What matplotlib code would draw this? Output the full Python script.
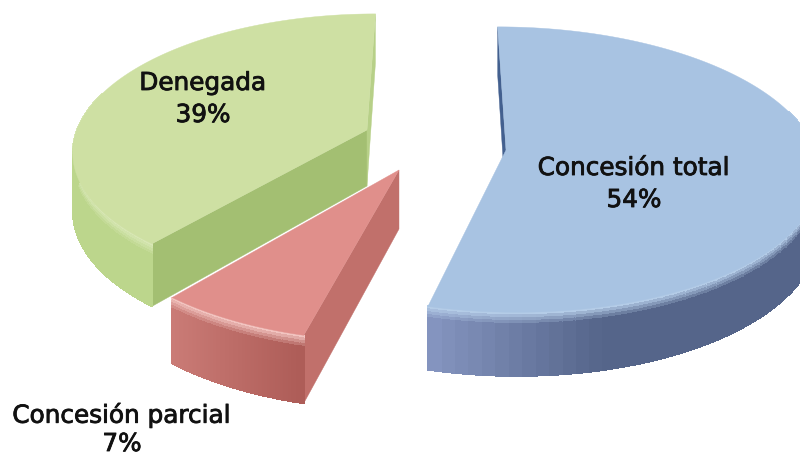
import numpy as np
import matplotlib
matplotlib.use("Agg")
import matplotlib.pyplot as plt
import matplotlib.patheffects as pe
from matplotlib.patches import Polygon
from matplotlib.colors import to_rgb

categories = ["Concesión total", "Concesión parcial", "Denegada"]
shares = [54, 7, 39]
share_labels = ["54%", "7%", "39%"]

VANISH_X = 437.0
PERSP = 0.137
geom = {
    "Concesión total": dict(ax=506, ay=150, rx=309, ry=140, d=55, top="#A8C3E2",
                            hi="#B4CCE7", s0="#8595C0", s1="#55658A", face="#43608F", ends=("start",)),
    "Concesión parcial": dict(ax=399, ay=170, rx=312, ry=148, d=59, top="#E08F8B",
                              hi="#F2C4C0", s0="#CA7B76", s1="#AE5D58", face="#C1706B", ends=("start",)),
    "Denegada": dict(ax=367, ay=130, rx=290, ry=132, d=56, top="#CEE0A3",
                     hi="#D8E7B5", s0="#BCD68C", s1="#BCD68C", face="#A3BF72", ends=("start", "end")),
}
label_pos = {
    "Concesión total": (634, 168, 200),
    "Concesión parcial": (122, 415, 444),
    "Denegada": (203, 83, 115),
}
draw_order = ["Denegada", "Concesión parcial", "Concesión total"]


def project(g, theta, r=1.0, depth=0.0):
    u = np.sin(theta) * r
    v = -np.cos(theta) * r
    w = 1.0 / (1.0 - PERSP * v)
    x = VANISH_X + (g["ax"] - VANISH_X + g["rx"] * u) * w
    y = g["ay"] + (g["ry"] * v + depth) * w
    return np.column_stack([np.atleast_1d(x), np.atleast_1d(y)])


def mix(a, b, t):
    a, b = np.array(to_rgb(a)), np.array(to_rgb(b))
    return tuple(a + (b - a) * np.clip(t, 0, 1))


fig = plt.figure(figsize=(8, 4.55), dpi=100)
ax = fig.add_axes([0, 0, 1, 1])
ax.set_xlim(0, 800)
ax.set_ylim(455, 0)
ax.axis("off")

edges = np.cumsum([0] + shares) / sum(shares) * 2 * np.pi
spans = {c: (edges[i], edges[i + 1]) for i, c in enumerate(categories)}
z = 1
for cat in draw_order:
    g = geom[cat]
    t0, t1 = spans[cat]
    # flat cut faces
    for which in g["ends"]:
        t = t0 if which == "start" else t1
        col = g["face"]
        if cat == "Denegada" and which == "end":
            col = "#B7D088"
        apex = project(g, t, 0.0)[0]
        apex_low = project(g, t, 0.0, g["d"])[0]
        rim = project(g, t)[0]
        rim_low = project(g, t, 1.0, g["d"])[0]
        ax.add_patch(Polygon([apex, rim, rim_low, apex_low], closed=True, fc=col, ec=col, lw=0.3, zorder=z))
        z += 1
    # curved side with a gradient and a soft bevel at its top
    n = 90
    th = np.linspace(t0, t1, n + 1)
    levels = [0, 2.5, 5, 7.5, 10, g["d"]]
    for i in range(n):
        if np.cos(0.5 * (th[i] + th[i + 1])) > 0.3:
            continue
        x_mid = project(g, 0.5 * (th[i] + th[i + 1]))[0, 0]
        if cat == "Concesión total":
            f = (x_mid - 430) / 170
        elif cat == "Concesión parcial":
            f = (x_mid - 172) / 125
        else:
            f = 0
        side = mix(g["s0"], g["s1"], f)
        for k in range(len(levels) - 1):
            a, b = levels[k], levels[k + 1]
            col = side if k == 4 else mix(g["hi"], side, k / 4)
            p = [project(g, th[i], 1.0, a)[0], project(g, th[i + 1], 1.0, a)[0],
                 project(g, th[i + 1], 1.0, b)[0], project(g, th[i], 1.0, b)[0]]
            ax.add_patch(Polygon(p, closed=True, fc=col, ec=col, lw=0.6, antialiased=False, zorder=z))
        z += 1
    # top face
    th = np.linspace(t0, t1, 200)
    pts = np.vstack([project(g, t0, 0.0), project(g, th)])
    ax.add_patch(Polygon(pts, closed=True, fc=g["top"], ec=g["top"], lw=0.3, zorder=z))
    z += 1

for cat, lab in zip(categories, share_labels):
    x, y1, y2 = label_pos[cat]
    for s, y in ((cat, y1), (lab, y2)):
        t = ax.text(x, y, s, ha="center", va="center", fontsize=17.8, color="#111111",
                    family="DejaVu Sans", zorder=1000)
        t.set_path_effects([pe.withStroke(linewidth=0.6, foreground="#111111")])

fig.savefig("out.png", dpi=100)
